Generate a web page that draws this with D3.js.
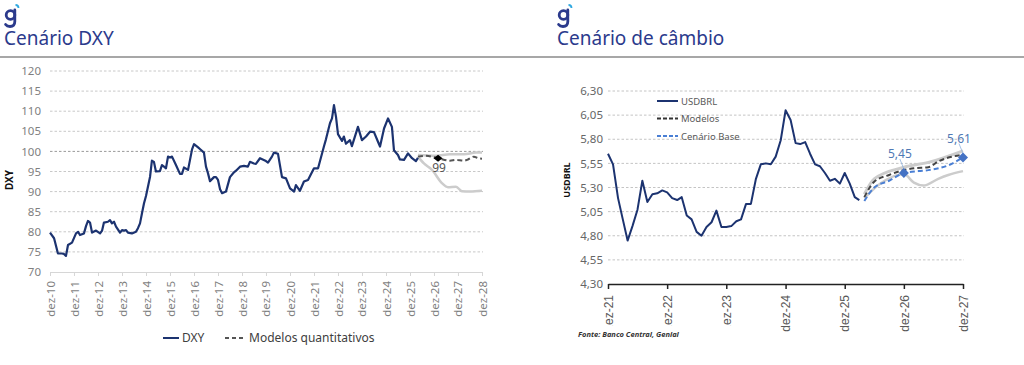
<!DOCTYPE html>
<html><head><meta charset="utf-8">
<script src="https://cdn.jsdelivr.net/npm/d3@7"></script>
<style>body{margin:0;background:#fff}svg{display:block}</style>
</head><body><svg id="c" width="1024" height="365"></svg>
<script>
// ---------- DATA: left chart (DXY) ----------
const dxyDates=["2010-12","2011-02","2011-04","2011-06","2011-07","2011-08","2011-09","2011-11","2012-01","2012-02","2012-03","2012-05","2012-06","2012-07","2012-08","2012-09","2012-11","2013-01","2013-02","2013-03","2013-05","2013-06","2013-07","2013-08","2013-09","2013-11","2013-12","2014-01","2014-02","2014-03","2014-05","2014-07","2014-08","2014-09","2014-10","2014-11","2014-12","2015-02","2015-03","2015-04","2015-05","2015-07","2015-08","2015-09","2015-10","2015-11","2015-12","2016-01","2016-03","2016-05","2016-06","2016-07","2016-09","2016-10","2016-11","2016-12","2017-02","2017-03","2017-05","2017-06","2017-07","2017-08","2017-10","2017-11","2017-12","2018-01","2018-02","2018-04","2018-06","2018-08","2018-09","2018-11","2019-01","2019-03","2019-04","2019-06","2019-07","2019-09","2019-12","2020-01","2020-03","2020-04","2020-06","2020-08","2020-10","2020-12","2021-02","2021-03","2021-05","2021-07","2021-09","2021-12","2022-02","2022-05","2022-06","2022-08","2022-09","2022-10","2022-11","2022-12","2023-02","2023-03","2023-04","2023-06","2023-07","2023-10","2023-12","2024-02","2024-04","2024-06","2024-08","2024-09","2024-11","2025-01","2025-03","2025-04","2025-06","2025-07","2025-09","2025-11","2026-01","2026-03","2026-04"];
const dxyValues=[79.8,78.4,74.6,74.6,74.5,74.0,76.7,77.3,79.6,80.0,79.2,79.6,81.4,82.7,82.3,79.8,80.3,79.6,80.3,82.3,82.5,82.9,82.1,82.5,81.3,79.8,80.4,80.3,80.4,79.8,79.6,80.0,80.9,82.1,84.6,87.1,88.9,93.7,97.7,97.4,95.0,95.1,96.6,96.2,95.8,98.7,98.5,98.7,96.6,94.4,94.4,96.0,95.4,97.9,100.5,101.8,101.0,100.6,99.7,96.2,94.6,92.6,93.6,93.6,92.9,90.6,89.6,90.0,93.6,94.8,95.2,96.2,96.4,96.2,97.4,97.0,96.9,98.3,97.6,97.2,98.7,99.7,99.4,93.6,93.3,90.8,90.0,91.6,90.2,92.5,92.9,95.8,95.8,101.2,103.0,107.0,108.2,111.5,108.6,104.3,102.6,103.7,101.9,102.8,101.3,106.1,102.8,103.7,104.9,104.8,102.4,101.2,105.7,108.2,106.1,100.3,99.1,98.0,97.9,99.5,98.3,97.6,98.4];
const dxyModelDates=["2026-04","2026-08","2027-02","2027-08","2027-11","2028-03","2028-05","2028-08","2028-10","2028-12"];
const dxyModelValues=[98.7,98.9,98.3,97.7,97.9,97.7,98.0,98.7,98.3,98.2];
const dxyUpperDates=["2026-04","2027-01","2027-08","2028-03","2028-09","2028-12"];
const dxyUpperValues=[99.1,98.9,99.3,99.3,99.7,99.7];
const dxyLowerDates=["2026-04","2026-07","2026-11","2027-04","2027-07","2027-11","2028-02","2028-06","2028-12"];
const dxyLowerValues=[98.7,97.0,95.4,92.1,91.1,91.2,90.1,90.0,90.2];
const dxyMarkerDate="2027-02", dxyMarkerValue=98.3, dxyMarkerLabel="99";
const dxyTickYears=[10,11,12,13,14,15,16,17,18,19,20,21,22,23,24,25,26,27,28];
const dxyYTicks=[70,75,80,85,90,95,100,105,110,115,120];

// ---------- DATA: right chart (USDBRL) ----------
const brlDates=["2021-12","2022-01","2022-02","2022-03","2022-04","2022-05","2022-06","2022-07","2022-08","2022-09","2022-10","2022-11","2022-12","2023-01","2023-02","2023-03","2023-04","2023-05","2023-06","2023-07","2023-08","2023-09","2023-10","2023-11","2023-12","2024-01","2024-02","2024-03","2024-04","2024-05","2024-06","2024-07","2024-08","2024-09","2024-10","2024-11","2024-12","2025-01","2025-02","2025-03","2025-04","2025-05","2025-06","2025-07","2025-08","2025-09","2025-10","2025-11","2025-12","2026-01","2026-02","2026-03"];
const brlValues=[5.65,5.54,5.19,4.98,4.75,4.90,5.07,5.37,5.15,5.23,5.24,5.27,5.25,5.19,5.17,5.20,5.01,4.97,4.84,4.80,4.89,4.94,5.06,4.89,4.89,4.90,4.95,4.97,5.13,5.13,5.39,5.54,5.55,5.54,5.62,5.79,6.10,6.00,5.76,5.75,5.77,5.65,5.54,5.52,5.45,5.37,5.39,5.34,5.45,5.34,5.20,5.17];
const brlModelDates=["2026-04","2026-06","2026-09","2026-12","2027-02","2027-05","2027-07","2027-12"];
const brlModelValues=[5.20,5.36,5.43,5.48,5.50,5.51,5.57,5.64];
const brlBaseDates=["2026-04","2026-06","2026-09","2026-12","2027-03","2027-05","2027-09","2027-12"];
const brlBaseValues=[5.16,5.30,5.37,5.45,5.47,5.48,5.53,5.61];
const brlUpperDates=["2026-04","2026-06","2026-12","2027-05","2027-12"];
const brlUpperValues=[5.23,5.39,5.51,5.56,5.68];
const brlLowerDates=["2026-04","2026-07","2026-12","2027-02","2027-04","2027-07","2027-09","2027-12"];
const brlLowerValues=[5.19,5.33,5.44,5.35,5.32,5.39,5.43,5.47];
const brlMarkerDates=["2026-12","2027-12"], brlMarkerValues=[5.45,5.61], brlMarkerLabels=["5,45","5,61"];
const brlTickLabels=["dez-21","dez-22","dez-23","dez-24","dez-25","dez-26","dez-27"];
const brlYTicks=[4.30,4.55,4.80,5.05,5.30,5.55,5.80,6.05,6.30];

// ---------- DRAW ----------
const parse=d3.timeParse("%Y-%m");
const svg=d3.select("#c");
const F='"Noto Sans", "Open Sans", sans-serif';
const NAVY="#1c3370", TITLE="#2b3a8c";

// header line
svg.append("line").attr("x1",0).attr("x2",1024).attr("y1",57).attr("y2",57).attr("stroke","#8a8a8a").attr("stroke-width",1.5);

function header(x,title){
  // logo "g" drawn as a small graphic
  const lg=svg.append("g").attr("transform",`translate(${x},0)`);
  lg.append("circle").attr("cx",6.5).attr("cy",15).attr("r",4.3).attr("fill","none").attr("stroke",TITLE).attr("stroke-width",2.8);
  lg.append("path").attr("d","M10.8,10 L10.8,21.5 Q10.8,26.5 6,26.5 Q3,26.5 1.6,24.5").attr("fill","none").attr("stroke",TITLE).attr("stroke-width",2.8).attr("stroke-linecap","round");
  lg.append("path").attr("d","M11.5,5 a3,3 0 0 1 3,3").attr("fill","none").attr("stroke","#2fa8e0").attr("stroke-width",1.8);
  svg.append("text").attr("x",x).attr("y",45).text(title).attr("font-family",F).attr("font-size",19).attr("fill",TITLE);
}
header(4,"Cenário DXY");
header(557,"Cenário de câmbio");

// ----- left chart -----
const xL=d3.scaleTime().domain([parse("2010-12"),parse("2028-12")]).range([50,482]);
const yL=d3.scaleLinear().domain([70,120]).range([272,71]);
const gL=svg.append("g");
gL.selectAll("line.grid").data(dxyYTicks.filter(v=>v>70)).join("line")
  .attr("x1",50).attr("x2",483).attr("y1",d=>yL(d)).attr("y2",d=>yL(d))
  .attr("stroke",d=>d===100?"#9a9a9a":"#c8c8c8").attr("stroke-dasharray","2.5,2").attr("stroke-width",1);
const yAxL=gL.append("g").attr("transform","translate(41,0)").call(d3.axisLeft(yL).tickValues(dxyYTicks).tickSize(0).tickPadding(0));
yAxL.select(".domain").remove();
yAxL.selectAll("text").attr("font-family",F).attr("font-size",11.5).attr("fill","#7f7f7f");
const xAxL=gL.append("g").attr("transform","translate(0,272)")
  .call(d3.axisBottom(xL).tickValues(dxyTickYears.map(y=>parse("20"+y+"-12"))).tickFormat((d,i)=>"dez-"+dxyTickYears[i]).tickSize(4).tickSizeOuter(0));
xAxL.select(".domain").attr("stroke","#d6d6d6");
xAxL.selectAll(".tick line").attr("stroke","#d6d6d6");
xAxL.selectAll("text").attr("transform","rotate(-90)").attr("text-anchor","end").attr("x",-9).attr("y",0).attr("dy","0.35em")
  .attr("font-family",F).attr("font-size",11.5).attr("fill","#7f7f7f");
svg.append("text").attr("transform","translate(13,180) rotate(-90)").attr("text-anchor","middle").text("DXY")
  .attr("font-family",F).attr("font-weight",700).attr("font-size",10).attr("fill","#111");

const lineL=d3.line().x(d=>xL(d[0])).y(d=>yL(d[1])).curve(d3.curveMonotoneX);
const zipL=(ds,vs)=>ds.map((d,i)=>[parse(d),vs[i]]);
gL.append("path").datum(zipL(dxyUpperDates,dxyUpperValues)).attr("d",lineL).attr("fill","none").attr("stroke","#cccccc").attr("stroke-width",2.5);
gL.append("path").datum(zipL(dxyLowerDates,dxyLowerValues)).attr("d",lineL).attr("fill","none").attr("stroke","#cccccc").attr("stroke-width",2.5);
gL.append("path").datum(zipL(dxyModelDates,dxyModelValues)).attr("d",lineL).attr("fill","none").attr("stroke","#555").attr("stroke-width",2).attr("stroke-dasharray","5,3");
gL.append("path").datum(zipL(dxyDates,dxyValues)).attr("d",d3.line().x(d=>xL(d[0])).y(d=>yL(d[1]))).attr("fill","none").attr("stroke",NAVY).attr("stroke-width",2.2).attr("stroke-linejoin","round");
const mx=xL(parse(dxyMarkerDate)), my=yL(dxyMarkerValue);
gL.append("path").attr("d",`M${mx-4.5},${my} L${mx},${my-3.5} L${mx+4.5},${my} L${mx},${my+3.5}Z`).attr("fill","#000");
gL.append("text").attr("x",mx+1).attr("y",my+14).attr("text-anchor","middle").text(dxyMarkerLabel).attr("font-family",F).attr("font-size",12).attr("fill","#555");
// legend left
svg.append("line").attr("x1",163).attr("x2",179).attr("y1",338).attr("y2",338).attr("stroke",NAVY).attr("stroke-width",2);
svg.append("text").attr("x",182).attr("y",342).text("DXY").attr("font-family",F).attr("font-size",12).attr("fill","#404040");
svg.append("line").attr("x1",225).attr("x2",246).attr("y1",338).attr("y2",338).attr("stroke","#555").attr("stroke-width",2).attr("stroke-dasharray","4,3");
svg.append("text").attr("x",249).attr("y",342).text("Modelos quantitativos").attr("font-family",F).attr("font-size",12).attr("fill","#404040");

// ----- right chart -----
const xR=d3.scaleTime().domain([parse("2021-12"),parse("2027-12")]).range([608,963]);
const yR=d3.scaleLinear().domain([4.30,6.30]).range([284,91]);
const gR=svg.append("g");
gR.selectAll("line.grid").data(brlYTicks.filter(v=>v>4.3)).join("line")
  .attr("x1",608).attr("x2",964).attr("y1",d=>yR(d)).attr("y2",d=>yR(d))
  .attr("stroke","#c4c4c4").attr("stroke-dasharray","2.5,2").attr("stroke-width",1);
const yAxR=gR.append("g").attr("transform","translate(603,0)").call(d3.axisLeft(yR).tickValues(brlYTicks).tickSize(0).tickPadding(0).tickFormat(d=>d3.format(".2f")(d).replace(".",",")));
yAxR.select(".domain").remove();
yAxR.selectAll("text").attr("font-family",F).attr("font-size",11.5).attr("fill","#666");
const xAxR=gR.append("g").attr("transform","translate(0,284)")
  .call(d3.axisBottom(xR).tickValues(brlTickLabels.map(s=>parse("20"+s.slice(4)+"-12"))).tickFormat((d,i)=>brlTickLabels[i]).tickSize(5).tickSizeOuter(0));
xAxR.select(".domain").attr("stroke","#222").attr("stroke-width",1.5);
xAxR.selectAll(".tick line").attr("stroke","#222").attr("stroke-width",1.5);
xAxR.selectAll("text").attr("transform","rotate(-90)").attr("text-anchor","end").attr("x",-11).attr("y",0).attr("dy","0.35em")
  .attr("font-family",'"Liberation Sans", Arial, sans-serif').attr("font-size",12).attr("fill","#595959");
svg.append("rect").attr("x",560).attr("y",326).attr("width",190).attr("height",20).attr("fill","#fff");
svg.append("text").attr("x",578).attr("y",337).text("Fonte: Banco Central, Genial").attr("font-family",F).attr("font-weight",700).attr("font-style","italic").attr("font-size",7.5).attr("fill","#333");
svg.append("text").attr("transform","translate(570,180) rotate(-90)").attr("text-anchor","middle").text("USDBRL")
  .attr("font-family",F).attr("font-weight",700).attr("font-size",9).attr("fill","#111");

const lineR=d3.line().x(d=>xR(d[0])).y(d=>yR(d[1])).curve(d3.curveMonotoneX);
gR.append("path").datum(zipL(brlUpperDates,brlUpperValues)).attr("d",lineR).attr("fill","none").attr("stroke","#cccccc").attr("stroke-width",3);
gR.append("path").datum(zipL(brlLowerDates,brlLowerValues)).attr("d",lineR).attr("fill","none").attr("stroke","#cccccc").attr("stroke-width",2.5);
gR.append("path").datum(zipL(brlModelDates,brlModelValues)).attr("d",lineR).attr("fill","none").attr("stroke","#444").attr("stroke-width",2).attr("stroke-dasharray","5,3");
gR.append("path").datum(zipL(brlBaseDates,brlBaseValues)).attr("d",lineR).attr("fill","none").attr("stroke","#4a7fd4").attr("stroke-width",2).attr("stroke-dasharray","5,3");
gR.append("path").datum(zipL(brlDates,brlValues)).attr("d",d3.line().x(d=>xR(d[0])).y(d=>yR(d[1]))).attr("fill","none").attr("stroke",NAVY).attr("stroke-width",2).attr("stroke-linejoin","round");
brlMarkerDates.forEach((d,i)=>{
  const px=xR(parse(d)), py=yR(brlMarkerValues[i]);
  gR.append("line").attr("x1",px-4).attr("y1",py-14).attr("x2",px).attr("y2",py-4).attr("stroke","#8fb3e0").attr("stroke-width",0.8);
  gR.append("path").attr("d",d3.symbol(d3.symbolSquare,50)()).attr("transform",`translate(${px},${py}) rotate(45)`).attr("fill","#4472c4");
  gR.append("text").attr("x",px-4).attr("y",py-15).attr("text-anchor","middle").text(brlMarkerLabels[i]).attr("font-family",F).attr("font-size",12).attr("fill","#4f79b5");
});
// legend right
const lgR=[["USDBRL",NAVY,null,101],["Modelos","#333","4,2",118.5],["Cenário Base","#4a7fd4","4,2",136]];
lgR.forEach(([t,c,da,y])=>{
  const l=svg.append("line").attr("x1",657).attr("x2",678).attr("y1",y).attr("y2",y).attr("stroke",c).attr("stroke-width",2);
  if(da) l.attr("stroke-dasharray",da);
  svg.append("text").attr("x",681).attr("y",y+3.5).text(t).attr("font-family",F).attr("font-size",9.5).attr("fill","#595959");
});
</script></body></html>
